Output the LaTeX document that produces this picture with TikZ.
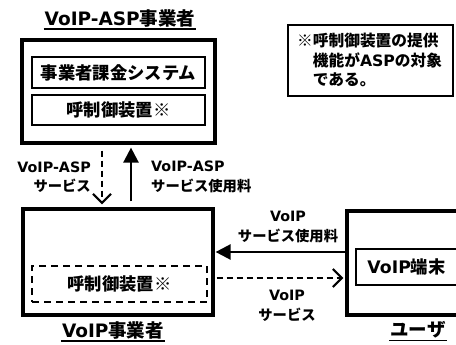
\documentclass[tikz,border=0pt]{standalone}
\usepackage{fontspec}
\setmainfont{Noto Sans CJK JP}
\newfontfamily\lfont{DejaVu Sans}
\usetikzlibrary{arrows.meta}
\tikzset{
  outerbox/.style={draw, line width=3.2pt, fill=white, inner sep=0pt},
  innerbox/.style={draw, line width=1.8pt, fill=white, inner sep=0pt,
    font=\bfseries\fontsize{17.3}{19}\selectfont},
  dashbox/.style={draw, line width=2.4pt, dash pattern=on 7pt off 5pt, inner sep=0pt,
    font=\bfseries\fontsize{17.3}{19}\selectfont},
  titletext/.style={font=\bfseries\fontsize{18.5}{20}\selectfont, inner sep=1pt},
  lbl/.style={font=\bfseries\fontsize{14.3}{19.5}\selectfont, inner sep=0pt},
  notebox/.style={draw, line width=1.1pt, inner sep=0pt},
  solidarrow/.style={line width=2.4pt, -{Triangle[length=15pt,width=15pt]}},
  dasharrow/.style={line width=2.2pt, dash pattern=on 6pt off 4pt,
    -{Straight Barb[length=9pt,width=18pt,line width=2.2pt]}},
  uline/.style={line width=1.6pt},
}
\begin{document}
\begin{tikzpicture}[x=1pt,y=-1pt]
\useasboundingbox (0,0) rectangle (456,345);
\clip (0,0) rectangle (456,345);

% VoIP-ASP operator
\node[titletext] (asptitle) at (120,18) {{\lfont VoIP-ASP}事業者};
\draw[uline] ([yshift=-1pt]asptitle.south west) -- ([yshift=-1pt]asptitle.south east);
\node[outerbox, minimum width=193pt, minimum height=103pt] (asp) at (118.5,91.5) {};
\node[innerbox, minimum width=173pt, minimum height=31pt] (billing) at (118.5,72.5) {事業者課金システム};
\node[innerbox, minimum width=173pt, minimum height=30pt] (ctrlA) at (118.5,110) {呼制御装置※};

% note
\node[notebox, minimum width=165pt, minimum height=71pt] (note) at (370.5,60.5) {};
\node[font=\bfseries\fontsize{15.7}{19.5}\selectfont, align=left, anchor=north west, inner sep=0pt]
  (notetext) at (297,33) {※呼制御装置の提供\\\phantom{※}機能が{\lfont ASP}の対象\\\phantom{※}である。};

% VoIP operator
\node[outerbox, minimum width=190pt, minimum height=106pt] (voip) at (118,262) {};
\node[dashbox, minimum width=175pt, minimum height=36pt] (ctrlB) at (119.5,284) {呼制御装置※};
\node[titletext] (voiptitle) at (113,330) {{\lfont VoIP}事業者};
\draw[uline] ([yshift=-1pt]voiptitle.south west) -- ([yshift=-1pt]voiptitle.south east);

% user
\node[outerbox, minimum width=118pt, minimum height=104pt] (user) at (406,263) {};
\node[innerbox, minimum width=101pt, minimum height=36pt] (term) at (406.5,267) {{\lfont VoIP}端末};
\node[titletext] (usertitle) at (418,330) {ユーザ};
\draw[uline] ([yshift=-1pt]usertitle.south west) -- ([yshift=-1pt]usertitle.south east);

% vertical flows
\coordinate (xd) at (102,0);
\coordinate (xs) at (131,0);
\draw[dasharrow, shorten <=6pt, shorten >=3pt] (asp.south -| xd) -- (voip.north -| xd);
\draw[solidarrow, shorten <=6pt, shorten >=3pt] (voip.north -| xs) -- (asp.south -| xs);
\node[lbl, align=right, anchor=east] (lblA) at (91,177) {{\lfont VoIP-ASP}\\サービス};
\node[lbl, align=left, anchor=west] (lblB) at (151,177) {{\lfont VoIP-ASP}\\サービス使用料};

% horizontal flows
\coordinate (ys) at (0,252);
\coordinate (yd) at (0,278);
\draw[solidarrow, shorten >=1pt] (user.west |- ys) -- (voip.east |- ys);
\draw[dasharrow, shorten <=2pt, shorten >=2pt] (voip.east |- yd) -- (user.west |- yd);
\node[lbl, align=center] (lblC) at (288,227) {{\lfont VoIP}\\サービス使用料};
\node[lbl, align=center] (lblD) at (287,306) {{\lfont VoIP}\\サービス};
\end{tikzpicture}
\end{document}
